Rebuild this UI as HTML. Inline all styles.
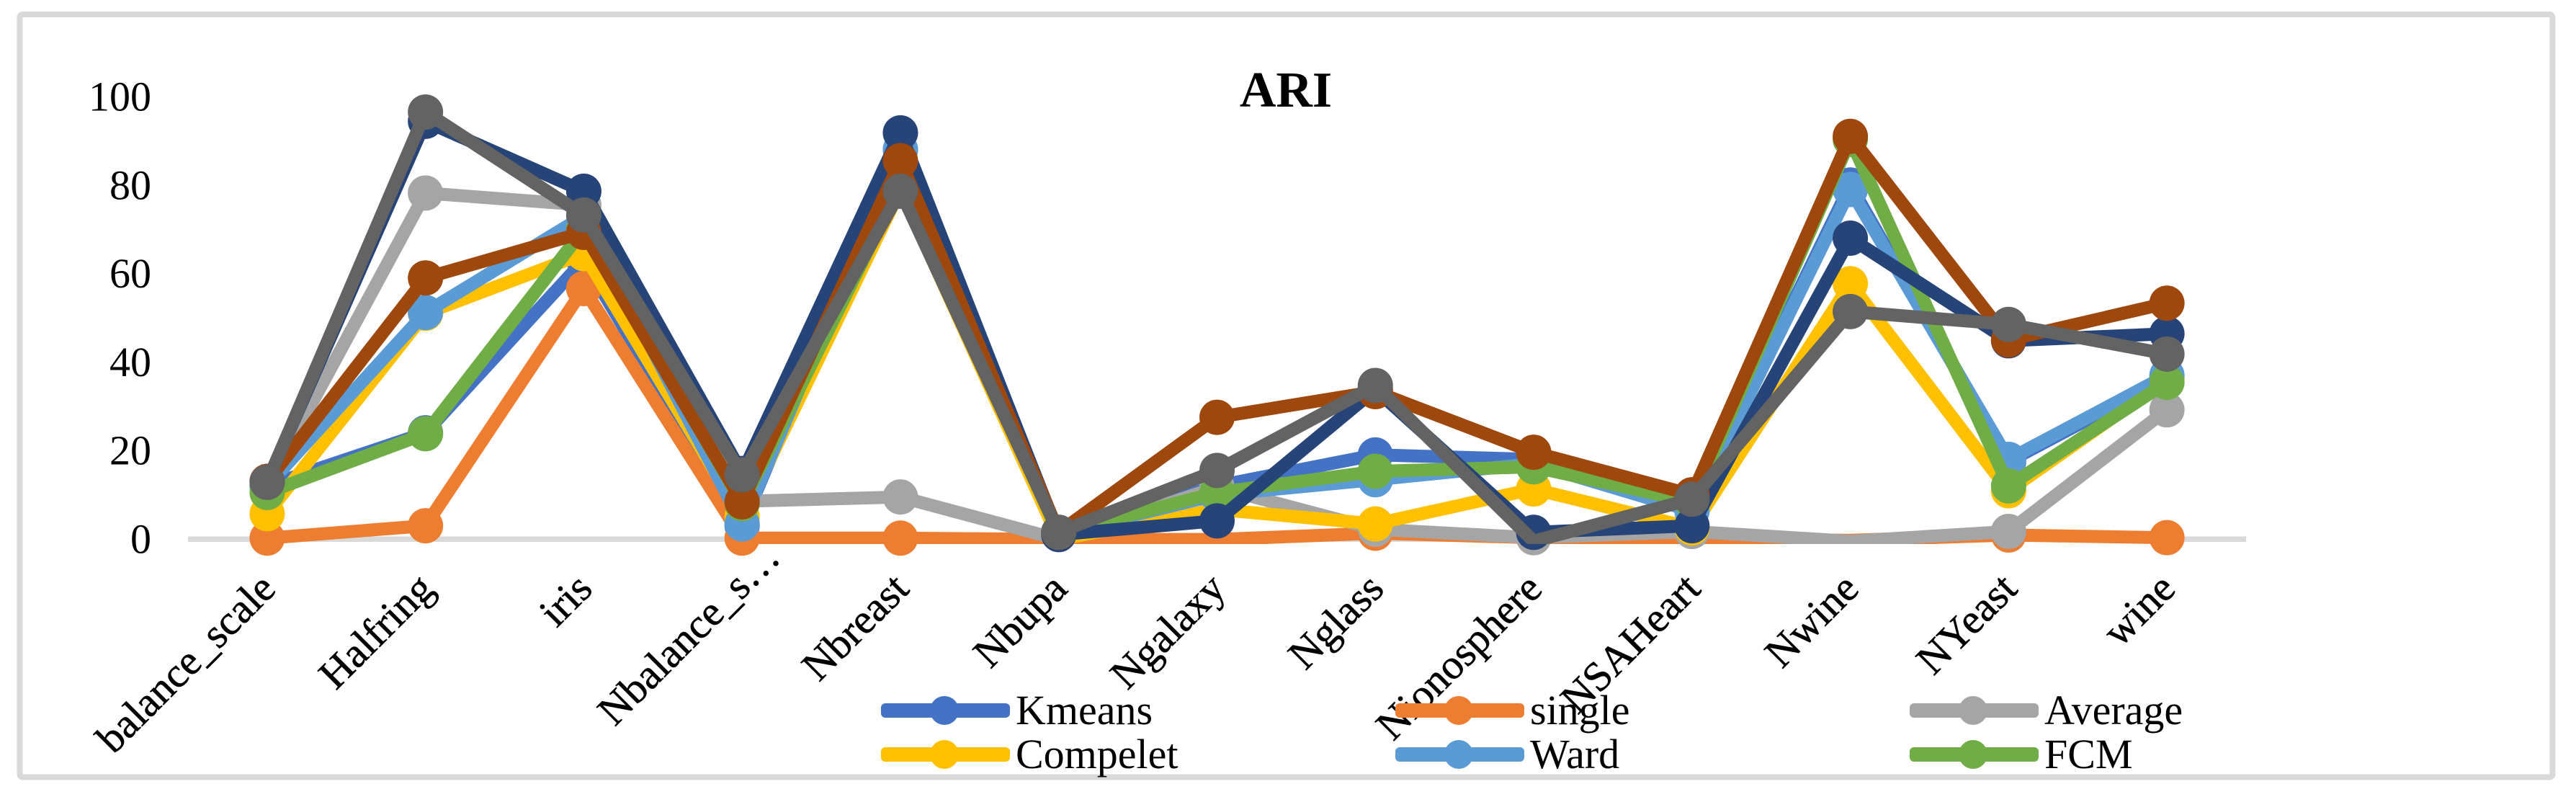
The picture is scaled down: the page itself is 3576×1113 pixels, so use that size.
<!DOCTYPE html>
<html lang="en">
<head>
<meta charset="utf-8">
<title>ARI</title>
<style>
html,body{margin:0;padding:0;background:#fff;}
svg{display:block;}
text{font-family:"Liberation Serif",serif;fill:#000;}
</style>
</head>
<body>
<svg id="chart" xmlns="http://www.w3.org/2000/svg" width="3576" height="1113" viewBox="0 0 3576 1113">
<defs><clipPath id="plot-clip"><rect x="0" y="0" width="3576" height="755"/></clipPath></defs>
<rect x="0" y="0" width="3576" height="1113" fill="#fff"/>
<rect x="27.5" y="20" width="3516" height="1058.5" rx="4" fill="#fff" stroke="#d9d9d9" stroke-width="8"/>
<text x="1785" y="148" font-size="70" font-weight="bold" text-anchor="middle">ARI</text>
<g id="y-axis"></g>
<rect x="261" y="744.5" width="2857" height="7.5" fill="#d9d9d9"/>
<g id="x-axis"></g>
<g id="series"></g>
<g id="legend"></g>
</svg>
<script>
const categories = ["balance_scale","Halfring","iris","Nbalance_s…","Nbreast","Nbupa","Ngalaxy","Nglass","Nionosphere","NSAHeart","Nwine","NYeast","wine"];
const yTicks = [0,20,40,60,80,100];
const kmeans   = [12, 24, 63, 3, 88, 1.2, 12, 19, 18, 6.7, 80, 17.5, 36.5];
const single   = [0.2, 3, 56.6, 0.2, 0.2, -0.1, -0.1, 1.3, 0.3, -0.1, -0.3, 0.9, 0.3];
const average  = [12, 78.2, 75.5, 8.5, 9.5, -0.1, 11.7, 2.2, 0.3, 1.7, -0.5, 1.7, 29.2];
const compelet = [5.7, 51, 64.5, 5, 79, -0.1, 6.7, 3.4, 11.3, 2.5, 57.7, 10.9, 36];
const ward     = [12, 51.2, 73, 3.4, 88, 1.2, 10, 13.4, 17, 6.3, 79, 18, 37];
const fcm      = [10.5, 23.8, 70, 8, 80, 1.2, 10.5, 15.3, 16.3, 8.4, 90.3, 12, 35.4];
const series7  = [13, 94.4, 78.6, 14.8, 91.8, 1, 4.1, 33.8, 1.5, 3, 68, 44.8, 46.4];
const series8  = [13, 59, 69.3, 8.4, 85.5, 1.5, 27.5, 33.3, 19.6, 10, 91, 45, 53.3];
const series9  = [12.8, 96.5, 73.2, 14.5, 78.6, 1.5, 15.5, 34.7, -0.5, 9, 51.4, 48.5, 41.8];
const seriesNames = ["kmeans","single","average","compelet","ward","fcm","series-7","series-8","series-9"];
const seriesValues = [kmeans,single,average,compelet,ward,fcm,series7,series8,series9];
const seriesColors = ["#4472c4","#ed7d31","#a5a5a5","#ffc000","#5b9bd5","#70ad47","#264478","#9e480e","#636363"];
const legendLabels = ["Kmeans","single","Average","Compelet","Ward","FCM"];
const legendColors = ["#4472c4","#ed7d31","#a5a5a5","#ffc000","#5b9bd5","#70ad47"];

const NS = "http://www.w3.org/2000/svg";
const plotLeft = 261, plotRight = 3118, baseY = 748, unitY = 6.14;
const bandW = (plotRight - plotLeft) / categories.length;
function xScale(i){ return plotLeft + bandW * (i + 0.5); }
function yScale(v){ return baseY - unitY * v; }
function make(tag, attrs){
  const el = document.createElementNS(NS, tag);
  for (const k in attrs) el.setAttribute(k, attrs[k]);
  return el;
}

const yAxis = document.getElementById("y-axis");
yTicks.forEach(function(t){
  const el = make("text", {x: 210, y: yScale(t) + 19.5, "font-size": 58, "text-anchor": "end"});
  
  
  el.textContent = t;
  yAxis.appendChild(el);
});

const xAxis = document.getElementById("x-axis");
categories.forEach(function(c, i){
  const truncated = c.endsWith("…");
  const ax = xScale(i) + 14.5 + (truncated ? 41 : 0);
  const ay = 820 - (truncated ? 43 : 0);
  const el = make("text", {x: ax, y: ay, "font-size": 58, "text-anchor": "end", stroke: "#000", "stroke-width": 0.6, transform: "rotate(-45 " + ax + " " + ay + ")"});
  
  
  el.textContent = c;
  xAxis.appendChild(el);
});

const seriesGroup = document.getElementById("series");
seriesValues.forEach(function(vals, s){
  const g = make("g", {});
  
  
  const pts = vals.map(function(v, i){ return xScale(i).toFixed(1) + "," + yScale(v).toFixed(1); }).join(" ");
  const line = make("polyline", {points: pts, fill: "none", stroke: seriesColors[s], "stroke-width": 18, "stroke-linejoin": "round", "clip-path": "url(#plot-clip)"});
  
  
  g.appendChild(line);
  vals.forEach(function(v, i){
    if (v < 0) return;
    const dot = make("circle", {cx: xScale(i), cy: yScale(v), r: 24.5, fill: seriesColors[s]});
    
    
    g.appendChild(dot);
  });
  seriesGroup.appendChild(g);
});

const legend = document.getElementById("legend");
const legendColX = [1223, 1937, 2651];
const legendRowY = [986, 1047];
legendLabels.forEach(function(label, i){
  const col = i % 3, row = Math.floor(i / 3);
  const x0 = legendColX[col], yc = legendRowY[row];
  const g = make("g", {});
  
  
  const bar = make("rect", {x: x0, y: yc - 10, width: 179, height: 20, rx: 6, fill: legendColors[i]});
  
  
  g.appendChild(bar);
  const dot = make("circle", {cx: x0 + 88, cy: yc, r: 20, fill: legendColors[i]});
  
  
  g.appendChild(dot);
  const t = make("text", {x: x0 + 187, y: yc + 19, "font-size": 58});
  
  
  t.textContent = label;
  g.appendChild(t);
  legend.appendChild(g);
});
</script>
</body>
</html>
